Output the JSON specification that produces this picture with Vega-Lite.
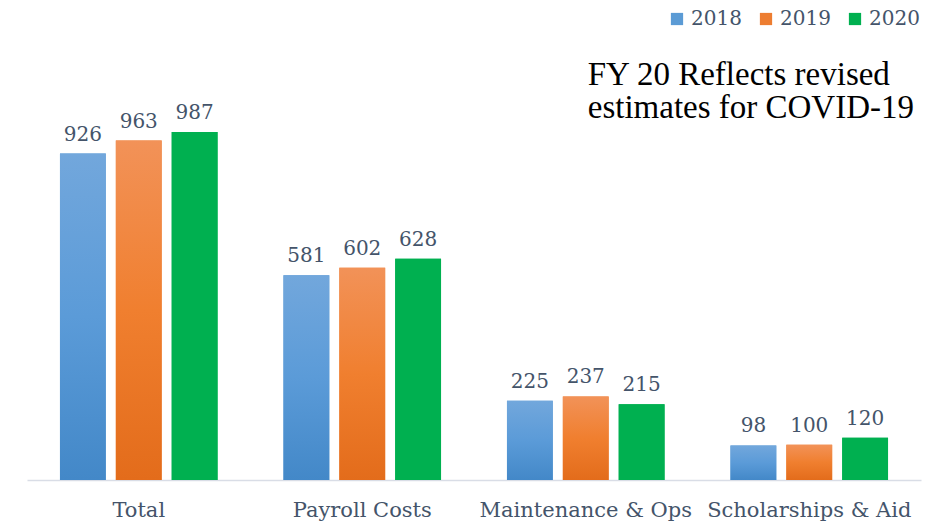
{
  "$schema": "https://vega.github.io/schema/vega-lite/v6.json",
  "width": 894,
  "height": 460,
  "autosize": {"type": "none"},
  "padding": {"left": 27, "top": 20, "right": 12, "bottom": 43},
  "background": "white",
  "config": {"view": {"stroke": null}, "font": "DejaVu Serif"},
  "datasets": {
    "main": [
      {"category": "Total", "year": "2018", "value": 926},
      {"category": "Total", "year": "2019", "value": 963},
      {"category": "Total", "year": "2020", "value": 987},
      {"category": "Payroll Costs", "year": "2018", "value": 581},
      {"category": "Payroll Costs", "year": "2019", "value": 602},
      {"category": "Payroll Costs", "year": "2020", "value": 628},
      {"category": "Maintenance & Ops", "year": "2018", "value": 225},
      {"category": "Maintenance & Ops", "year": "2019", "value": 237},
      {"category": "Maintenance & Ops", "year": "2020", "value": 215},
      {"category": "Scholarships & Aid", "year": "2018", "value": 98},
      {"category": "Scholarships & Aid", "year": "2019", "value": 100},
      {"category": "Scholarships & Aid", "year": "2020", "value": 120}
    ],
    "note": [{"category": "Maintenance & Ops", "value": 1120, "note": ["FY 20 Reflects revised", "estimates for COVID-19"]}]
  },
  "encoding": {
    "x": {
      "field": "category", "type": "nominal", "sort": null,
      "scale": {"domain": ["Total", "Payroll Costs", "Maintenance & Ops", "Scholarships & Aid"], "paddingInner": 0.25, "paddingOuter": 0.125},
      "axis": {"title": null, "labelAngle": 0, "ticks": false, "labelFontSize": 21, "labelLimit": 0, "labelColor": "#44546a", "labelPadding": 19, "domainColor": "#d9dde6", "domainWidth": 1.5, "labelFont": "DejaVu Serif"}
    },
    "y": {"field": "value", "type": "quantitative", "scale": {"domain": [0, 1305], "zero": true, "nice": false}, "axis": null}
  },
  "layer": [
    {
      "data": {"name": "main"},
      "encoding": {
        "xOffset": {"field": "year", "type": "nominal", "scale": {"paddingInner": 0.18, "paddingOuter": 0.09}}
      },
      "layer": [
        {
          "mark": {"type": "bar"},
          "encoding": {
            "color": {
              "field": "year", "type": "nominal",
              "scale": {"domain": ["2018", "2019", "2020"], "range": ["#5b9bd5", "#ed7d31", "#00b050"]},
              "legend": {
                "title": null, "orient": "none", "direction": "horizontal", "legendX": 640, "legendY": -11,
                "symbolType": "square", "symbolSize": 150, "labelFontSize": 20, "labelColor": "#44546a",
                "labelFont": "DejaVu Serif", "columnPadding": 14, "labelOffset": 4
              }
            }
          }
        },
        {
          "mark": {"type": "bar"},
          "encoding": {
            "fill": {
              "condition": [
                {"test": "datum.year === '2018'", "value": {"gradient": "linear", "x1": 0, "y1": 0, "x2": 0, "y2": 1, "stops": [{"offset": 0, "color": "#72a7dc"}, {"offset": 0.5, "color": "#5b9bd8"}, {"offset": 1, "color": "#4388c8"}]}},
                {"test": "datum.year === '2019'", "value": {"gradient": "linear", "x1": 0, "y1": 0, "x2": 0, "y2": 1, "stops": [{"offset": 0, "color": "#f29258"}, {"offset": 0.5, "color": "#f07f2f"}, {"offset": 1, "color": "#e36c1b"}]}}
              ],
              "value": "#00b050"
            }
          }
        },
        {
          "mark": {"type": "text", "baseline": "alphabetic", "dy": -13, "fontSize": 20, "color": "#44546a", "font": "DejaVu Serif"},
          "encoding": {"text": {"field": "value", "type": "quantitative"}}
        }
      ]
    },
    {
      "data": {"name": "note"},
      "mark": {"type": "text", "align": "left", "baseline": "alphabetic", "fontSize": 33, "lineHeight": 33, "color": "#000000", "font": "Liberation Serif", "dx": 2},
      "encoding": {
        "text": {"field": "note"}
      }
    }
  ]
}
